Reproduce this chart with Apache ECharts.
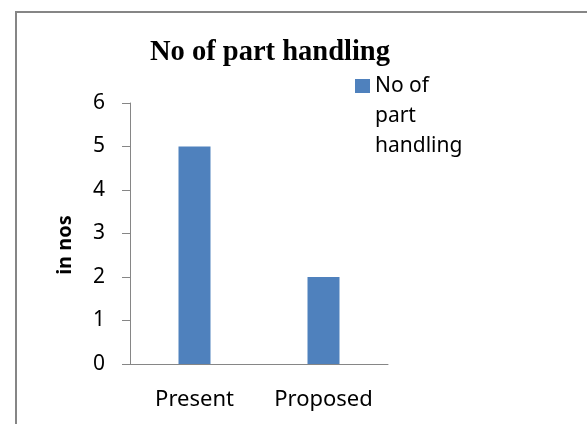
<!DOCTYPE html>
<html>
<head>
<meta charset="utf-8">
<script src="https://cdn.jsdelivr.net/npm/echarts@6/dist/echarts.min.js"></script>
<style>
html,body{margin:0;padding:0;background:#fff;}
#chart{width:587px;height:424px;}
</style>
</head>
<body>
<div id="chart"></div>
<script>
var categories = ['Present', 'Proposed'];
var seriesName = 'No of part handling';
var legendLines = ['No of', 'part', 'handling'];
var values = [5, 2];
var yTicks = [0, 1, 2, 3, 4, 5, 6];
var titleText = 'No of part handling';
var yAxisName = 'in nos';

var chart = echarts.init(document.getElementById('chart'), null, {renderer: 'canvas'});
var option = {
  animation: false,
  backgroundColor: '#ffffff',
  graphic: [{
    type: 'rect',
    shape: {x: 16, y: 12, width: 700, height: 600},
    style: {fill: 'none', stroke: '#868686', lineWidth: 2},
    silent: true
  }],
  title: {
    text: titleText,
    left: 150,
    top: 38,
    padding: 0,
    textStyle: {fontFamily: 'Liberation Serif', fontWeight: 'bold', fontSize: 28.5, color: '#000'}
  },
  legend: {
    left: 355,
    top: 11,
    padding: 0,
    itemWidth: 15,
    itemHeight: 14,
    icon: 'rect',
    data: [seriesName],
    formatter: function () {
      return '{s| }\n' + legendLines.map(function (l) { return '{t|' + l + '}'; }).join('\n');
    },
    textStyle: {
      fontFamily: 'Noto Sans', fontSize: 21, color: '#000',
      rich: {
        s: {fontSize: 10, lineHeight: 60, height: 60},
        t: {fontFamily: 'Noto Sans', fontSize: 21, color: '#000', lineHeight: 30}
      }
    }
  },
  grid: {left: 130, right: 199, top: 103, bottom: 60, containLabel: false},
  xAxis: {
    type: 'category',
    data: categories,
    axisLine: {lineStyle: {color: '#868686', width: 1}},
    axisTick: {show: false},
    axisLabel: {fontFamily: 'Noto Sans', fontSize: 22, color: '#000', margin: 25}
  },
  yAxis: {
    type: 'value',
    min: yTicks[0],
    max: yTicks[yTicks.length - 1],
    interval: 1,
    name: yAxisName,
    nameLocation: 'middle',
    nameRotate: 90,
    nameGap: 55,
    nameTextStyle: {fontFamily: 'Noto Sans', fontWeight: 'bold', fontSize: 20, color: '#000', padding: [0, 23, 0, 0]},
    axisLine: {show: true, lineStyle: {color: '#868686', width: 1}},
    axisTick: {show: true, inside: false, length: 8, lineStyle: {color: '#868686'}},
    splitLine: {show: false},
    axisLabel: {fontFamily: 'Noto Sans', fontSize: 21, color: '#000', margin: 25}
  },
  series: [{
    name: seriesName,
    type: 'bar',
    data: values,
    barWidth: 32,
    itemStyle: {color: '#4F81BD'}
  }]
};
chart.setOption(option);
</script>
</body>
</html>
